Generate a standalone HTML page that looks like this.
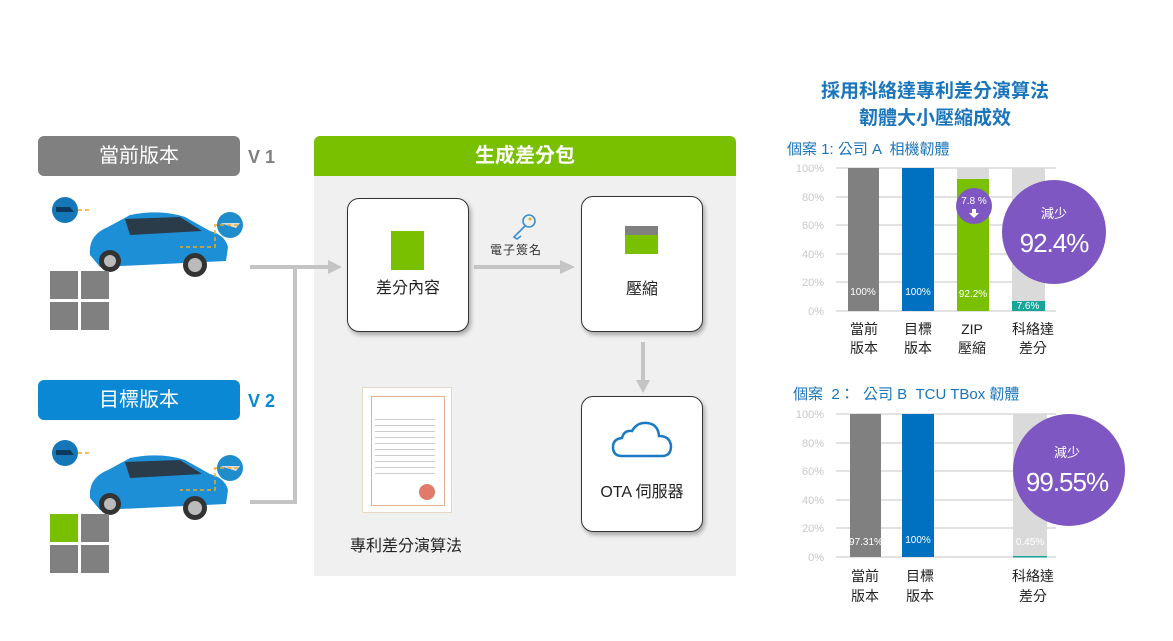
<!DOCTYPE html>
<html><head><meta charset="utf-8"><style>
body{margin:0;width:1173px;height:641px;background:#fff;position:relative;overflow:hidden;font-family:"Liberation Sans","Noto Sans CJK TC",sans-serif}
.a{position:absolute}
.hdr{position:absolute;border-radius:6px;color:#fff;font-size:20px;text-align:center;line-height:40px}
.box{position:absolute;background:#fff;border:1.5px solid #333;border-radius:12px;box-shadow:2px 3px 4px rgba(0,0,0,.3);box-sizing:border-box}
.t{position:absolute;white-space:nowrap}
</style></head><body>
<svg width="0" height="0" style="position:absolute"><defs>
<g id="car">
<circle cx="15" cy="15" r="13" fill="#1677b8"/><path d="M6 12h14l4 5H6z" fill="#0a3a60"/>
<circle cx="180" cy="30" r="13" fill="#1f8ccc"/><path d="M170 28l20 0 -4 5z" fill="#ddd"/>
<path d="M40 60 Q38 40 58 32 L80 20 Q110 14 135 22 L160 36 Q175 40 178 52 L176 66 L50 72 Z" fill="#1d8fd6"/>
<path d="M75 24 L130 22 L152 36 L80 40 Z" fill="#2a3b4a"/>
<circle cx="60" cy="66" r="11" fill="#333"/><circle cx="60" cy="66" r="6" fill="#bbb"/>
<circle cx="145" cy="70" r="12" fill="#333"/><circle cx="145" cy="70" r="7" fill="#bbb"/>
<path d="M28 15 L42 15 M188 30 L165 30 L165 52 L130 52" stroke="#f4a91f" stroke-width="1.5" stroke-dasharray="4 3" fill="none"/>
</g></defs></svg>

<div class="hdr" style="left:38px;top:136px;width:202px;height:40px;background:#808080">當前版本</div>
<div class="t" style="left:248px;top:147px;font-size:18px;font-weight:bold;color:#808080">V 1</div>
<svg class="a" style="left:50px;top:195px" width="200" height="85"><use href="#car"/></svg>
<div class="a" style="left:50px;top:271px;width:28px;height:28px;background:#808080"></div>
<div class="a" style="left:81px;top:271px;width:28px;height:28px;background:#808080"></div>
<div class="a" style="left:50px;top:302px;width:28px;height:28px;background:#808080"></div>
<div class="a" style="left:81px;top:302px;width:28px;height:28px;background:#808080"></div>

<div class="hdr" style="left:38px;top:380px;width:202px;height:40px;background:#0a88d4">目標版本</div>
<div class="t" style="left:248px;top:391px;font-size:18px;font-weight:bold;color:#0a88d4">V 2</div>
<svg class="a" style="left:50px;top:438px" width="200" height="85"><use href="#car"/></svg>
<div class="a" style="left:50px;top:514px;width:28px;height:28px;background:#78bf00"></div>
<div class="a" style="left:81px;top:514px;width:28px;height:28px;background:#808080"></div>
<div class="a" style="left:50px;top:545px;width:28px;height:28px;background:#808080"></div>
<div class="a" style="left:81px;top:545px;width:28px;height:28px;background:#808080"></div>

<div class="a" style="left:314px;top:176px;width:422px;height:400px;background:#f0f0f0"></div>
<div class="hdr" style="left:314px;top:136px;width:422px;height:40px;background:#78c000;border-radius:6px 6px 0 0;font-weight:bold">生成差分包</div>

<svg class="a" style="left:0;top:0" width="1173" height="641">
<g stroke="#c4c4c4" stroke-width="4" fill="none">
<path d="M250 267H330M295 267V502H250"/>
<path d="M474 267H562"/>
<path d="M643 342V382"/>
</g>
<path d="M328 260L342 267L328 274Z" fill="#c4c4c4"/>
<path d="M560 260L575 267L560 274Z" fill="#c4c4c4"/>
<path d="M636 380L643 393L650 380Z" fill="#c4c4c4"/>
<g fill="none" stroke="#3a8fd0" stroke-width="1.6"><circle cx="529" cy="221" r="6"/><path d="M525 226L514 237L517 239L521 236"/></g>
<circle cx="530" cy="219" r="1.5" fill="#f4a91f"/>
</svg>

<div class="box" style="left:347px;top:198px;width:122px;height:134px"></div>
<div class="a" style="left:391px;top:231px;width:33px;height:39px;background:#78c000"></div>
<div class="t" style="left:347px;top:274px;width:122px;text-align:center;font-size:16px;color:#222">差分內容</div>
<div class="t" style="left:490px;top:241px;font-size:12px;color:#333;letter-spacing:1px">電子簽名</div>

<div class="box" style="left:581px;top:196px;width:122px;height:136px"></div>
<div class="a" style="left:625px;top:226px;width:33px;height:9px;background:#808080"></div>
<div class="a" style="left:625px;top:235px;width:33px;height:19px;background:#78c000"></div>
<div class="t" style="left:581px;top:275px;width:122px;text-align:center;font-size:16px;color:#222">壓縮</div>

<div class="box" style="left:581px;top:396px;width:122px;height:136px"></div>
<svg class="a" style="left:610px;top:420px" width="66" height="42"><path d="M12 36 Q3 36 3 27 Q3 19 12 18 Q14 10 22 11 Q27 2 37 3 Q48 4 49 16 Q60 16 61 26 Q61 36 52 36 Z" fill="none" stroke="#1a7bc4" stroke-width="2.5"/></svg>
<div class="t" style="left:581px;top:478px;width:122px;text-align:center;font-size:16px;color:#222">OTA 伺服器</div>

<div class="a" style="left:362px;top:387px;width:90px;height:126px;background:#fff;border:1px solid #e8d8c8;box-sizing:border-box">
<div class="a" style="left:8px;top:8px;width:72px;height:108px;border:1px solid #e0b090"></div>
<div class="a" style="left:12px;top:26px;width:60px;height:60px;background:repeating-linear-gradient(#fff 0 5px,#ccc 5px 6px)"></div>
<div class="a" style="left:56px;top:96px;width:16px;height:16px;border-radius:50%;background:#e07a6a"></div>
</div>
<div class="t" style="left:350px;top:532px;font-size:16px;color:#222">專利差分演算法</div>

<div class="t" style="left:785px;top:78px;width:300px;text-align:center;font-size:19px;font-weight:bold;color:#1a75bb;line-height:27px">採用科絡達專利差分演算法<br>韌體大小壓縮成效</div>
<div class="t" style="left:787px;top:138px;font-size:15px;color:#1a75bb">個案 1: 公司 A &nbsp;相機韌體</div>

<svg class="a" style="left:0;top:0" width="1173" height="641" font-family="Liberation Sans,Noto Sans CJK TC,sans-serif">
<g stroke="#d9d9d9" stroke-width="1.5">
<path d="M836 168H1056M836 197H1056M836 225H1056M836 254H1056M836 282H1056M836 311H1056"/>
<path d="M836 414H1056M836 443H1056M836 471H1056M836 500H1056M836 528H1056M836 557H1056"/>
</g>
<g fill="#c8c8c8" font-size="11" text-anchor="end">
<text x="824" y="172">100%</text><text x="824" y="201">80%</text><text x="824" y="229">60%</text><text x="824" y="258">40%</text><text x="824" y="286">20%</text><text x="824" y="315">0%</text>
<text x="824" y="418">100%</text><text x="824" y="447">80%</text><text x="824" y="475">60%</text><text x="824" y="504">40%</text><text x="824" y="532">20%</text><text x="824" y="561">0%</text>
</g>
<rect x="848" y="168" width="31" height="143" fill="#808080"/>
<rect x="902" y="168" width="32" height="143" fill="#0071c1"/>
<rect x="957" y="168" width="32" height="143" fill="#dadada"/>
<rect x="957" y="179" width="32" height="132" fill="#78c000"/>
<rect x="1012" y="168" width="33" height="143" fill="#dadada"/>
<rect x="1012" y="301" width="33" height="10" fill="#16a596"/>
<g fill="#fff" font-size="10" text-anchor="middle">
<text x="863" y="295">100%</text><text x="918" y="295">100%</text><text x="973" y="297">92.2%</text><text x="1028" y="309">7.6%</text>
</g>
<circle cx="974" cy="206" r="18" fill="#7e57c2"/>
<text x="974" y="204" fill="#fff" font-size="10" text-anchor="middle">7.8 %</text>
<path d="M972 209h4v4h3l-5 5-5-5h3z" fill="#fff"/>
<circle cx="1054" cy="232" r="52" fill="#7e57c2"/>
<text x="1054" y="218" fill="#fff" font-size="13" text-anchor="middle">減少</text>
<text x="1054" y="252" fill="#fff" font-size="26" text-anchor="middle" letter-spacing="-1">92.4%</text>

<rect x="850" y="414" width="31" height="143" fill="#808080"/>
<rect x="902" y="414" width="32" height="143" fill="#0071c1"/>
<rect x="1013" y="414" width="34" height="143" fill="#dadada"/>
<rect x="1013" y="556" width="34" height="1.5" fill="#16a596"/>
<g fill="#fff" font-size="10" text-anchor="middle">
<text x="866" y="545">97.31%</text><text x="918" y="543">100%</text><text x="1030" y="545">0.45%</text>
</g>
<circle cx="1069" cy="470" r="56" fill="#7e57c2"/>
<text x="1067" y="457" fill="#fff" font-size="13" text-anchor="middle">減少</text>
<text x="1067" y="491" fill="#fff" font-size="26" text-anchor="middle" letter-spacing="-1">99.55%</text>

<g fill="#222" font-size="14" text-anchor="middle">
<text x="864" y="334">當前</text><text x="864" y="353">版本</text>
<text x="918" y="334">目標</text><text x="918" y="353">版本</text>
<text x="972" y="334">ZIP</text><text x="972" y="353">壓縮</text>
<text x="1033" y="334">科絡達</text><text x="1033" y="353">差分</text>
<text x="865" y="581">當前</text><text x="865" y="601">版本</text>
<text x="920" y="581">目標</text><text x="920" y="601">版本</text>
<text x="1033" y="581">科絡達</text><text x="1033" y="601">差分</text>
</g>
</svg>
<div class="t" style="left:793px;top:383px;font-size:15px;color:#1a75bb">個案 &nbsp;2： &nbsp;公司 B &nbsp;TCU TBox 韌體</div>
</body></html>
